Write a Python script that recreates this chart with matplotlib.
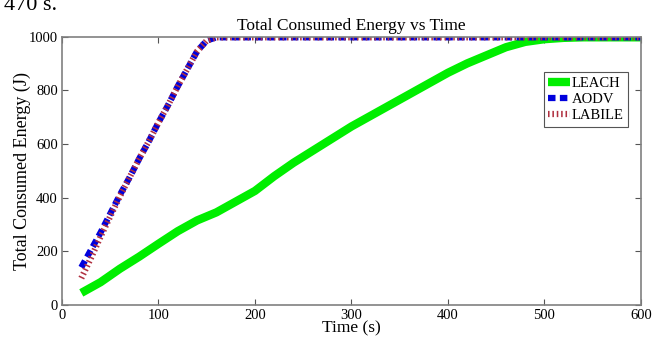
import numpy as np
import matplotlib.pyplot as plt

# Werte
t_leach = [20, 40, 60, 80, 100, 120, 140, 160, 180, 200, 220, 240, 260, 280, 300,
           320, 340, 360, 380, 400, 420, 440, 460, 480, 500, 520, 540, 560, 580, 600]
e_leach = [45, 85, 135, 180, 228, 275, 315, 345, 385, 425, 480, 530, 575, 620, 665,
           705, 745, 785, 825, 865, 900, 930, 960, 980, 990, 995, 997, 997, 997, 997]

t_aodv = [20, 30, 40, 50, 60, 70, 80, 90, 100, 110, 120, 130, 140, 150, 160,
          200, 300, 400, 500, 600]
e_aodv = [140, 205, 270, 340, 410, 475, 545, 610, 680, 745, 815, 880, 945, 985, 997,
          997, 997, 997, 997, 997]

t_labile = [20, 30, 40, 50, 60, 70, 80, 90, 100, 110, 120, 130, 140, 150, 160,
            200, 300, 400, 500, 600]
e_labile = [100, 175, 255, 330, 405, 475, 545, 610, 680, 745, 815, 880, 945, 985, 997,
            997, 997, 997, 997, 997]

plt.rcParams['font.family'] = ['Liberation Serif', 'DejaVu Serif']

fig = plt.figure(figsize=(6.54, 3.39), dpi=100)
ax = fig.add_axes([0.0948, 0.1003, 0.8853, 0.7920])

ax.plot(t_leach, e_leach, color='#00ee00', lw=6, solid_capstyle='butt', label='LEACH')
ax.plot(t_aodv, e_aodv, color='#0000dd', lw=4.5, linestyle=(0, (1.2, 0.7)), label='AODV')
ax.plot(t_labile, e_labile, color='#b03040', lw=4.5, linestyle=(0, (0.25, 0.45)),
        dash_capstyle='butt', label='LABILE')

ax.set_xlim(0, 600)
ax.set_ylim(0, 1000)
ax.set_xticks(np.arange(0, 601, 100))
ax.set_yticks(np.arange(0, 1001, 200))
ax.tick_params(direction='in', top=True, right=True, length=4, width=0.8,
               color='#555555', labelsize=10.5, pad=3)
for s in ax.spines.values():
    s.set_color('#808080')
    s.set_linewidth(1.2)

ax.set_xlabel('Time (s)', fontsize=12.5, labelpad=-1)
ax.set_ylabel('Total Consumed Energy (J)', fontsize=13, labelpad=-2)
ax.set_title('Total Consumed Energy vs Time', fontsize=12.5, pad=5)

leg = ax.legend(loc='upper right', bbox_to_anchor=(0.977, 0.866), fontsize=10.5,
                handlelength=1.5, handletextpad=0.1, borderpad=0.3, labelspacing=0.2,
                fancybox=False, framealpha=1, borderaxespad=0)
leg.get_frame().set_edgecolor('#555555')
leg.get_frame().set_linewidth(0.8)

# abgeschnittener Text vom Dokument oben links
fig.text(0.006, 1 - 10 / 339, '470 s.', fontsize=16, va='baseline')

fig.savefig('out.png', dpi=100)
